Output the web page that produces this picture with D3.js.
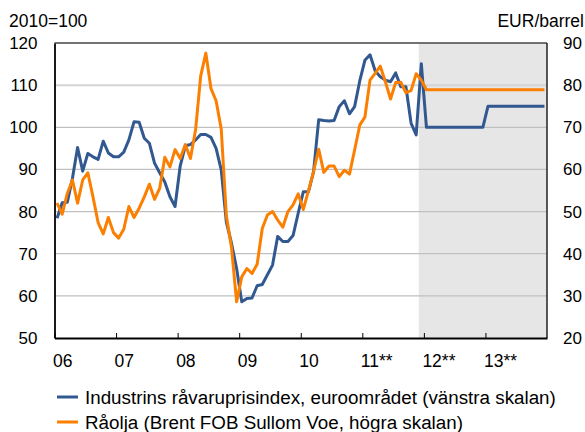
<!DOCTYPE html>
<html>
<head>
<meta charset="utf-8">
<script src="https://cdn.jsdelivr.net/npm/d3@7"></script>
<style>
  html, body { margin: 0; padding: 0; background: #fff; }
  svg { display: block; font-family: "Liberation Sans", Arial, sans-serif; }
</style>
</head>
<body>
<svg id="chart" width="585" height="432"></svg>
<script>
// ---- Data ----
const yearLabels = ["06", "07", "08", "09", "10", "11**", "12**", "13**"];
const firstYear = 2006;
const forecastStartMonth = 71; // Dec 2011 (month index from Jan 2006)

const leftTicks = [50, 60, 70, 80, 90, 100, 110, 120];
const rightTicks = [20, 30, 40, 50, 60, 70, 80, 90];

// Industrins råvaruprisindex, euroområdet (2010=100), monthly Jan 2006 - Dec 2013
const industri = [
  78.4, 82.1, 82.2, 87.9, 95.2, 89.6, 93.8, 93.0, 92.4, 96.7,
  93.9, 93.0, 93.0, 94.1, 97.0, 101.3, 101.2, 97.4, 96.2, 91.5,
  89.2, 87.0, 83.5, 81.2, 90.8, 95.6, 95.9, 97.0, 98.3, 98.3,
  97.6, 95.0, 89.9, 77.5, 72.5, 66.5, 58.6, 59.4, 59.5, 62.4,
  62.7, 65.0, 67.3, 74.1, 72.9, 72.9, 74.3, 79.6, 84.7, 84.7,
  89.5, 101.8, 101.6, 101.5, 101.6, 104.9, 106.3, 103.2, 104.9, 111.0,
  115.9, 117.2, 113.4, 112.0, 111.2, 110.8, 112.9, 109.6, 109.6, 101.0,
  98.2, 115.1, 100, 100, 100, 100, 100, 100, 100, 100,
  100, 100, 100, 100, 105, 105, 105, 105, 105, 105,
  105, 105, 105, 105, 105, 105
];

// Råolja, Brent FOB Sullom Voe (EUR/barrel), monthly Jan 2006 - Dec 2013
const olja = [
  52.0, 49.4, 54.3, 57.5, 52.0, 57.5, 59.2, 53.5, 47.4, 44.7,
  48.6, 45.0, 43.7, 45.8, 51.2, 48.6, 50.8, 53.5, 56.5, 52.9,
  55.5, 62.9, 60.6, 64.7, 62.6, 65.9, 62.6, 69.4, 82.2, 87.6,
  79.2, 76.3, 69.6, 49.0, 41.5, 28.6, 34.5, 36.5, 35.3, 37.5,
  46.0, 49.2, 50.0, 48.0, 46.3, 50.0, 51.6, 54.2, 50.5, 54.9,
  59.5, 64.8, 59.3, 60.8, 60.8, 58.3, 59.8, 58.9, 64.6, 70.5,
  72.4, 81.2, 82.8, 84.5, 80.8, 76.7, 80.6, 80.7, 78.2, 78.7,
  82.7, 81.2, 78.9, 78.9, 78.9, 78.9, 78.9, 78.9, 78.9, 78.9,
  78.9, 78.9, 78.9, 78.9, 78.9, 78.9, 78.9, 78.9, 78.9, 78.9,
  78.9, 78.9, 78.9, 78.9, 78.9, 78.9
];

const legendLabels = [
  "Industrins råvaruprisindex, euroområdet (vänstra skalan)",
  "Råolja (Brent FOB Sullom Voe, högra skalan)"
];
const colors = ["#325890", "#fb7f00"];

// ---- Layout ----
const svg = d3.select("#chart");
const L = 54.5, R = 547, T = 43, B = 338;
const nMonths = yearLabels.length * 12;
const FONT = "Liberation Sans, Arial, sans-serif";

const x = d3.scaleLinear().domain([0, nMonths]).range([L, R]);
const yL = d3.scaleLinear().domain([50, 120]).range([B, T]);
const yR = d3.scaleLinear().domain([20, 90]).range([B, T]);

// forecast shading
svg.append("rect")
  .attr("x", x(forecastStartMonth)).attr("y", T)
  .attr("width", R - x(forecastStartMonth)).attr("height", B - T)
  .attr("fill", "#e6e6e6");

// gridlines
svg.append("g").selectAll("line")
  .data(leftTicks.filter(d => d > 50 && d < 120))
  .join("line")
  .attr("x1", L).attr("x2", R)
  .attr("y1", d => yL(d)).attr("y2", d => yL(d))
  .attr("stroke", d => d === 110 ? "#d4d4d4" : "#c0c0c0")
  .attr("stroke-width", d => d === 110 ? 2 : 1.2);

// lines
const line = (scale) => d3.line()
  .x((d, i) => x(i + 0.5))
  .y(d => scale(d));

svg.append("path").datum(industri)
  .attr("d", line(yL))
  .attr("fill", "none").attr("stroke", colors[0])
  .attr("stroke-width", 3).attr("stroke-linejoin", "round");

svg.append("path").datum(olja)
  .attr("d", line(yR))
  .attr("fill", "none").attr("stroke", colors[1])
  .attr("stroke-width", 3).attr("stroke-linejoin", "round");

// frame
svg.append("line").attr("x1", L).attr("x2", R).attr("y1", T).attr("y2", T)
  .attr("stroke", "#444").attr("stroke-width", 1.5);
svg.append("line").attr("x1", R).attr("x2", R).attr("y1", T).attr("y2", B)
  .attr("stroke", "#222").attr("stroke-width", 1.5);

// left axis
const gL = svg.append("g").attr("transform", `translate(${L},0)`)
  .call(d3.axisLeft(yL).tickValues(leftTicks).tickSize(0).tickPadding(17));
gL.select(".domain").attr("stroke", "#000").attr("stroke-width", 1.8);
gL.selectAll("text").attr("font-size", 17).attr("fill", "#000")
  .attr("font-family", FONT);

// right axis labels
const gR = svg.append("g").attr("transform", `translate(${R},0)`)
  .call(d3.axisRight(yR).tickValues(rightTicks).tickSize(0).tickPadding(16));
gR.select(".domain").remove();
gR.selectAll("text").attr("font-size", 17).attr("fill", "#000")
  .attr("font-family", FONT);

// bottom axis
const yearTicks = d3.range(0, nMonths, 12);
const gB = svg.append("g").attr("transform", `translate(0,${B})`)
  .call(d3.axisBottom(x).tickValues(yearTicks)
    .tickSizeInner(-5).tickSizeOuter(0).tickPadding(17)
    .tickFormat((d, i) => yearLabels[i]));
gB.select(".domain").attr("stroke", "#000").attr("stroke-width", 1.8);
gB.selectAll(".tick line").attr("stroke", "#000");
gB.selectAll("text").attr("font-size", 17.5).attr("fill", "#000")
  .attr("text-anchor", "start").attr("dx", -2)
  .attr("font-family", FONT);

// axis titles
svg.append("text").attr("x", 9).attr("y", 27).attr("font-family", FONT)
  .attr("font-size", 17.5).text("2010=100");
svg.append("text").attr("x", 584).attr("y", 27).attr("text-anchor", "end")
  .attr("font-family", FONT).attr("font-size", 17.5).text("EUR/barrel");

// legend
const lg = svg.append("g");
legendLabels.forEach((t, i) => {
  const yy = 397 + i * 25;
  lg.append("line").attr("x1", 57).attr("x2", 78).attr("y1", yy).attr("y2", yy)
    .attr("stroke", colors[i]).attr("stroke-width", 3);
  lg.append("text").attr("x", 85).attr("y", yy + 6.5)
    .attr("font-family", FONT)
    .attr("font-size", 18.8).attr("fill", "#000").text(t);
});
</script>
</body>
</html>
